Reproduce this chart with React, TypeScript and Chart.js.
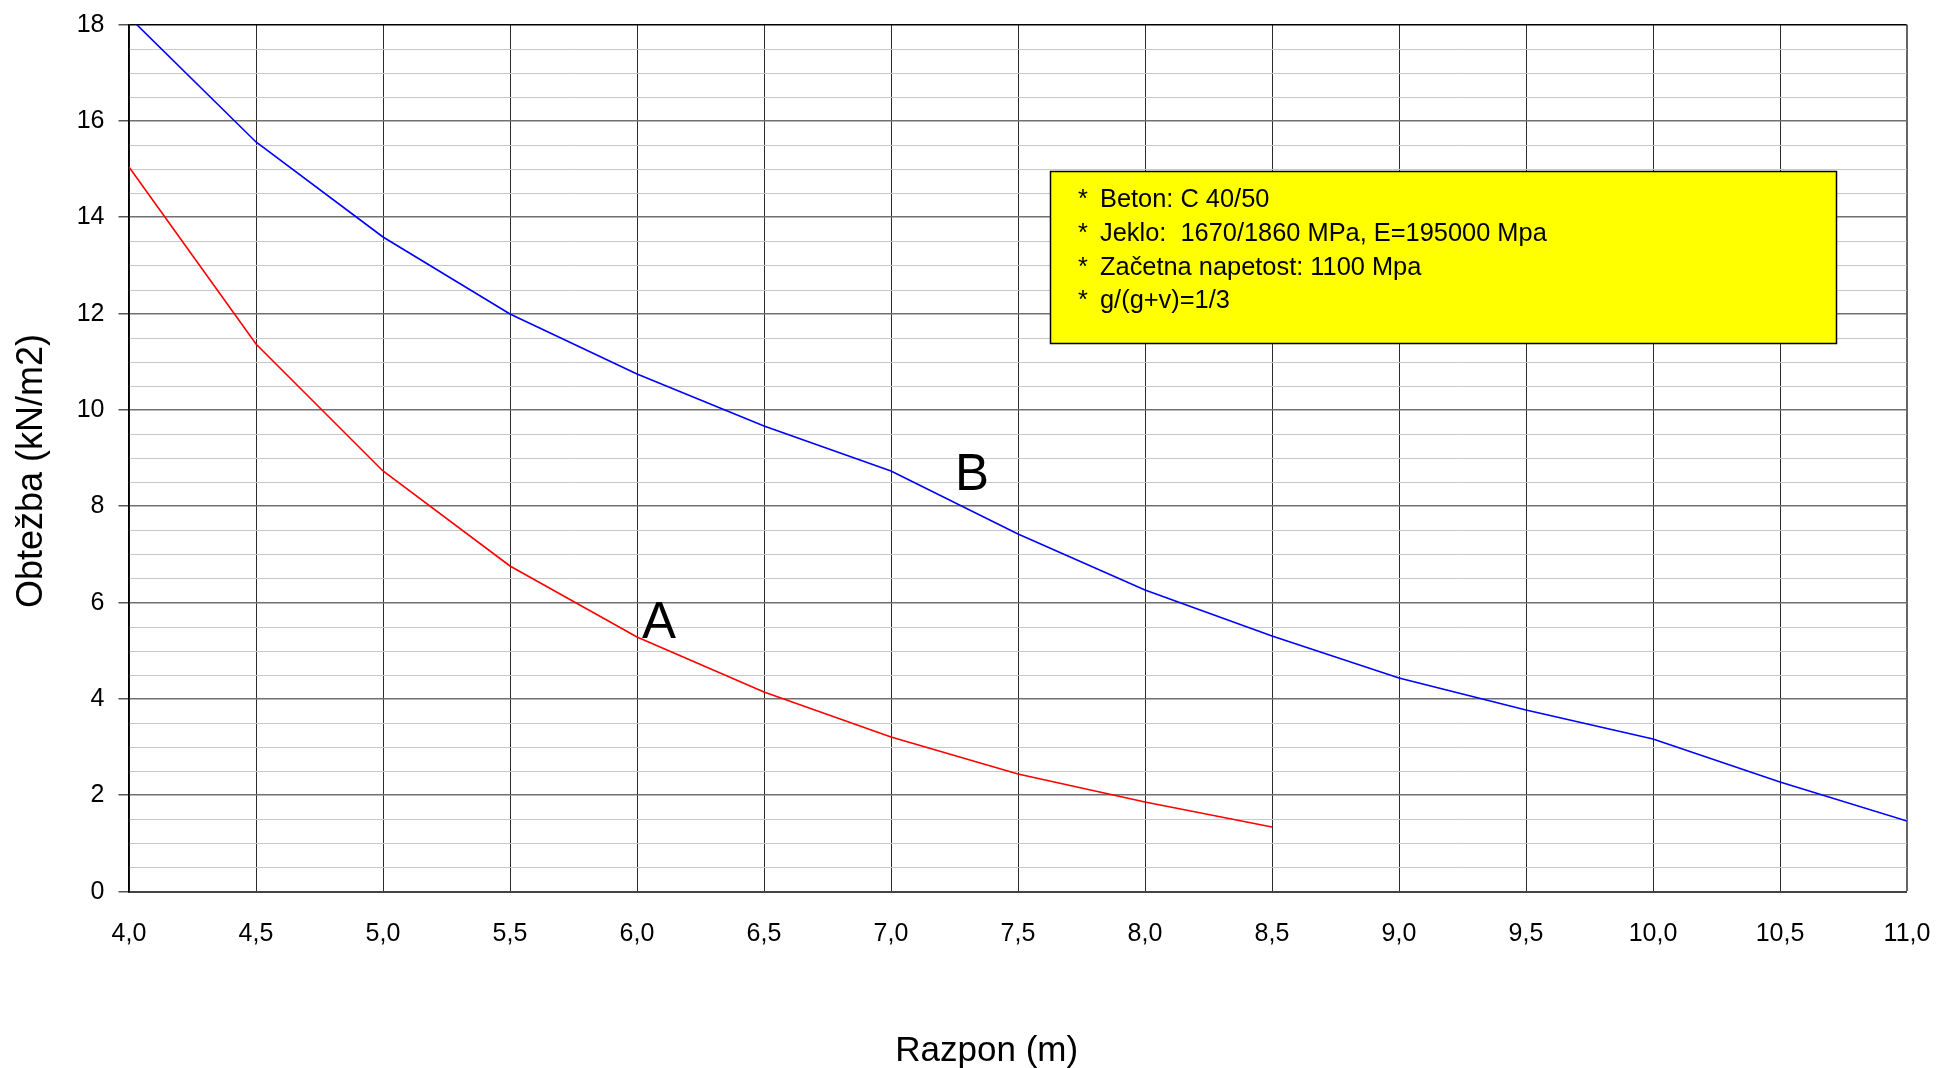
import React, { useEffect, useRef } from 'react';
import { Chart, registerables } from 'chart.js';

Chart.register(...registerables);

// ---- Data ----
const spansA = [4.0, 4.5, 5.0, 5.5, 6.0, 6.5, 7.0, 7.5, 8.0, 8.5];
const loadsA = [15.05, 11.37, 8.74, 6.75, 5.28, 4.15, 3.2, 2.45, 1.86, 1.34];

const spansB = [4.0, 4.5, 5.0, 5.5, 6.0, 6.5, 7.0, 7.5, 8.0, 8.5, 9.0, 9.5, 10.0, 10.5, 11.0];
const loadsB = [18.15, 15.57, 13.6, 12.0, 10.75, 9.66, 8.73, 7.43, 6.26, 5.3, 4.43, 3.76, 3.16, 2.27, 1.46];

const curveLabels = ['A', 'B'];
const curveLabelX = [6.03, 7.26];
const curveLabelY = [5.26, 8.34];

const noteLines = [
  'Beton: C 40/50',
  'Jeklo:  1670/1860 MPa, E=195000 Mpa',
  'Začetna napetost: 1100 Mpa',
  'g/(g+v)=1/3',
];

const xTitle = 'Razpon (m)';
const yTitle = 'Obtežba (kN/m2)';

const X_MIN = 4;
const X_MAX = 11;
const Y_MIN = 0;
const Y_MAX = 18;

const FONT = '"Liberation Sans", Arial, Helvetica, sans-serif';

const overlayPlugin = {
  id: 'overlay',
  afterDraw(chart: any) {
    const ctx = chart.ctx as CanvasRenderingContext2D;
    const xs = chart.scales.x;
    const ys = chart.scales.y;
    ctx.save();

    // Curve labels A / B
    ctx.fillStyle = '#000';
    ctx.font = `51px ${FONT}`;
    ctx.textAlign = 'left';
    ctx.textBaseline = 'alphabetic';
    curveLabels.forEach((lab, i) => {
      ctx.fillText(lab, xs.getPixelForValue(curveLabelX[i]) - 2, ys.getPixelForValue(curveLabelY[i]));
    });

    // Note box
    const bx = 1050.5, by = 171.5, bw = 786, bh = 172;
    ctx.fillStyle = '#ffff00';
    ctx.fillRect(bx, by, bw, bh);
    ctx.strokeStyle = '#000';
    ctx.lineWidth = 1.5;
    ctx.strokeRect(bx, by, bw, bh);

    ctx.fillStyle = '#000';
    ctx.font = `25.4px ${FONT}`;
    const baselines = [207, 241, 274.5, 308];
    noteLines.forEach((line, i) => {
      ctx.fillText('*', 1078, baselines[i]);
      ctx.fillText(line, 1100, baselines[i]);
    });

    // Axis titles
    ctx.font = `35px ${FONT}`;
    ctx.textAlign = 'center';
    ctx.textBaseline = 'alphabetic';
    ctx.fillText(xTitle, 986.7, 1061);

    ctx.save();
    ctx.font = `36px ${FONT}`;
    ctx.translate(42, 471);
    ctx.rotate(-Math.PI / 2);
    ctx.fillText(yTitle, 0, 0);
    ctx.restore();

    ctx.restore();
  },
};

const zeroPad = (scale: any) => {
  scale.paddingTop = 0;
  scale.paddingBottom = 0;
  scale.paddingLeft = 0;
  scale.paddingRight = 0;
};

export default function App() {
  const canvasRef = useRef<HTMLCanvasElement | null>(null);

  useEffect(() => {
    const canvas = canvasRef.current;
    if (!canvas) return;
    Chart.defaults.font.family = FONT;
    Chart.defaults.color = '#000';

    const chart = new Chart(canvas, {
      type: 'line',
      data: {
        datasets: [
          {
            label: 'A',
            data: spansA.map((x, i) => ({ x, y: loadsA[i] })),
            borderColor: '#ff0000',
            backgroundColor: '#ff0000',
            borderWidth: 1.6,
            pointRadius: 0,
            tension: 0,
            fill: false,
          },
          {
            label: 'B',
            data: spansB.map((x, i) => ({ x, y: loadsB[i] })),
            borderColor: '#0000ff',
            backgroundColor: '#0000ff',
            borderWidth: 1.6,
            pointRadius: 0,
            tension: 0,
            fill: false,
          },
        ],
      },
      options: {
        responsive: false,
        animation: false,
        layout: { padding: { top: 24.7, right: 31.3, left: 0, bottom: 0 } },
        plugins: {
          legend: { display: false },
          tooltip: { enabled: false },
          title: { display: false },
        },
        scales: {
          x: {
            type: 'linear',
            min: X_MIN,
            max: X_MAX,
            alignToPixels: true,
            afterFit: (scale: any) => {
              scale.height = 176.5;
              zeroPad(scale);
            },
            border: { display: true, color: '#444', width: 2 },
            grid: {
              drawTicks: false,
              color: (c: any) => (c.tick && c.tick.value === X_MAX ? '#666' : '#2a2a2a'),
              lineWidth: (c: any) => (c.tick && c.tick.value === X_MAX ? 2 : 1),
            },
            ticks: {
              stepSize: 0.5,
              autoSkip: false,
              maxRotation: 0,
              minRotation: 0,
              padding: 28,
              font: { size: 25, family: FONT },
              color: '#000',
              callback: (v: any) => Number(v).toFixed(1).replace('.', ','),
            },
          },
          y: {
            type: 'linear',
            min: Y_MIN,
            max: Y_MAX,
            alignToPixels: true,
            afterFit: (scale: any) => {
              scale.width = 128.5;
              zeroPad(scale);
            },
            border: { display: true, color: '#000', width: 1.5 },
            grid: {
              drawTicks: true,
              tickLength: 10,
              color: (c: any) => {
                const v = c.tick ? c.tick.value : 0;
                if (v === Y_MAX) return '#000';
                return Math.abs(v % 2) < 1e-9 ? '#707070' : '#c8c8c8';
              },
              lineWidth: (c: any) => {
                const v = c.tick ? c.tick.value : 0;
                return Math.abs(v % 2) < 1e-9 ? 1.5 : 1;
              },
              tickColor: (c: any) => {
                const v = c.tick ? c.tick.value : 0;
                return Math.abs(v % 2) < 1e-9 ? '#555' : 'rgba(0,0,0,0)';
              },
            },
            ticks: {
              stepSize: 0.5,
              autoSkip: false,
              padding: 14,
              font: { size: 25, family: FONT },
              color: '#000',
              callback: (v: any) => (Math.abs(Number(v) % 2) < 1e-9 ? String(v) : ''),
            },
          },
        },
      },
      plugins: [overlayPlugin],
    });

    return () => chart.destroy();
  }, []);

  return (
    <div style={{ position: 'fixed', left: 0, top: 0, width: 1938, height: 1068, background: '#fff' }}>
      <canvas ref={canvasRef} width={1938} height={1068} style={{ display: 'block', width: 1938, height: 1068 }} />
    </div>
  );
}
